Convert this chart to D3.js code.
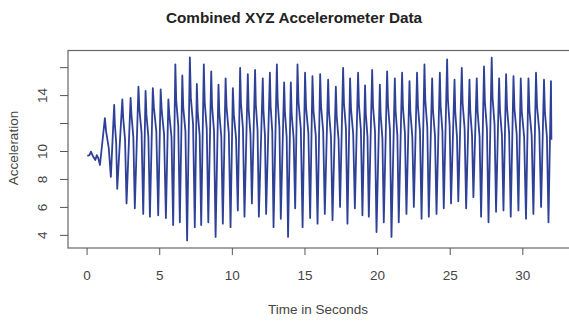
<!DOCTYPE html>
<meta charset="utf-8">
<style>
body { margin: 0; background: #fff; }
text { font-family: "Liberation Sans", Arial, sans-serif; }
.axis path { display: none; }
.axis line { stroke: #555; }
.axis text { fill: #444; font-size: 13.5px; }
</style>
<script src="https://d3js.org/d3.v7.min.js"></script>
<body>
<script>
// slow wobble before the shaking starts
const startTimes = [0.05, 0.2, 0.3, 0.45, 0.6, 0.7, 0.8];
const startVals  = [9.65, 9.7, 9.95, 9.6, 9.35, 9.7, 9.5];

// per stroke: trough, peak, shoulder just after the peak, plateau before the next trough
const troughTimes = [0.92, 1.67, 2.11, 2.75, 3.32, 3.90, 4.36, 4.93, 5.46, 5.96,
  6.42, 6.92, 7.45, 7.89, 8.38, 8.88, 9.38, 9.91, 10.41, 10.87,
  11.38, 11.86, 12.36, 12.87, 13.37, 13.87, 14.36, 14.87, 15.39, 15.90,
  16.40, 16.93, 17.45, 17.96, 18.47, 18.99, 19.43, 19.96, 20.46, 20.99,
  21.49, 22.02, 22.53, 23.06, 23.56, 24.09, 24.59, 25.09, 25.59, 26.13,
  26.63, 27.16, 27.67, 28.19, 28.70, 29.20, 29.73, 30.25, 30.76, 31.29,
  31.80];
const troughVals = [9.0, 8.15, 7.3, 6.25, 5.9, 5.5, 5.3, 5.4, 5.2, 4.7,
  4.9, 3.6, 4.55, 4.7, 4.9, 3.85, 4.8, 4.55, 5.75, 5.3,
  6.25, 5.3, 5.5, 4.55, 5.15, 3.85, 5.9, 4.55, 5.2, 4.8,
  5.5, 5.05, 6.0, 4.8, 5.9, 5.4, 5.3, 4.2, 4.9, 3.85,
  4.9, 5.5, 6.0, 5.15, 5.3, 5.5, 5.9, 6.25, 6.4, 5.9,
  6.7, 5.3, 4.9, 5.65, 5.75, 5.3, 5.75, 5.15, 5.5, 6.0,
  4.9];
const peakTimes = [1.26, 1.90, 2.46, 3.03, 3.57, 4.06, 4.56, 5.10, 5.63, 6.11,
  6.59, 7.11, 7.59, 8.07, 8.58, 9.08, 9.57, 10.07, 10.57, 11.10,
  11.60, 12.13, 12.62, 13.10, 13.60, 14.06, 14.52, 15.04, 15.55, 16.08,
  16.63, 17.16, 17.66, 18.14, 18.69, 19.17, 19.66, 20.19, 20.69, 21.22,
  21.72, 22.23, 22.75, 23.26, 23.79, 24.32, 24.82, 25.33, 25.83, 26.36,
  26.86, 27.36, 27.89, 28.40, 28.88, 29.39, 29.89, 30.42, 30.94, 31.49,
  31.97];
const peakVals = [12.35, 13.3, 13.7, 13.8, 14.6, 14.3, 14.5, 14.4, 13.7, 16.2,
  15.4, 16.7, 14.8, 16.2, 15.7, 14.75, 15.2, 14.5, 15.95, 15.5,
  15.8, 15.2, 15.6, 16.2, 14.9, 14.9, 16.2, 15.6, 15.35, 15.5,
  15.1, 14.6, 15.95, 15.2, 15.6, 14.7, 15.8, 14.75, 15.7, 15.2,
  15.6, 15.0, 15.6, 16.2, 15.2, 15.6, 16.55, 15.1, 15.95, 15.1,
  15.2, 16.05, 16.67, 15.2, 15.5, 15.35, 15.2, 15.2, 15.6, 15.1,
  15.0];
const shoulderVals = [11.4, 12.0, 12.4, 12.6, 13.0, 12.6, 13.1, 12.9, 12.6, 13.6,
  13.1, 13.8, 12.8, 13.5, 13.2, 12.7, 13.1, 12.6, 13.4, 13.0,
  13.3, 12.9, 13.2, 13.6, 12.8, 12.6, 13.5, 13.1, 12.9, 13.2,
  12.8, 12.5, 13.4, 13.0, 13.3, 12.7, 13.2, 12.6, 13.3, 12.9,
  13.1, 12.8, 13.2, 13.6, 12.9, 13.2, 13.7, 12.8, 13.4, 12.9,
  12.8, 13.5, 13.8, 12.9, 13.1, 13.0, 12.8, 12.9, 13.2, 12.8,
  11.8];
const plateauVals = [10.2, 10.6, 10.8, 11.0, 11.3, 11.0, 11.4, 11.2, 11.0, 11.8,
  11.4, 11.9, 11.1, 11.6, 11.4, 11.0, 11.3, 10.9, 11.6, 11.2,
  11.5, 11.1, 11.4, 11.7, 11.0, 10.9, 11.6, 11.3, 11.1, 11.4,
  11.0, 10.8, 11.6, 11.2, 11.5, 11.0, 11.4, 10.9, 11.5, 11.1,
  11.3, 11.0, 11.4, 11.7, 11.1, 11.4, 11.8, 11.0, 11.6, 11.1,
  11.0, 11.6, 11.9, 11.1, 11.3, 11.2, 11.0, 11.1, 11.4, 11.0,
  10.8];
const endTime = 32.0, endVal = 10.8;

const xTicks = [0, 5, 10, 15, 20, 25, 30];
const yTicks = [4, 6, 8, 10, 12, 14, 16];
const yLabels = [4, 6, 8, 10, 14];

const W = 569, H = 322;
const box = { left: 68, right: 570, top: 50.5, bottom: 248 };

// assemble the series
const series = [];
startTimes.forEach((t, i) => series.push([t, startVals[i]]));
peakTimes.forEach((t, i) => {
  series.push([troughTimes[i], troughVals[i]]);
  series.push([t, peakVals[i]]);
  if (i < peakTimes.length - 1) {
    const gap = troughTimes[i + 1] - t;
    series.push([t + gap * 0.2, shoulderVals[i]]);
    series.push([t + gap * 0.65, plateauVals[i]]);
  }
});
series.push([endTime, endVal]);

const svg = d3.select('body').append('svg')
  .attr('width', W).attr('height', H);

const x = d3.scaleLinear().domain([-1.28, 33.28]).range([box.left, box.right]);
const y = d3.scaleLinear().domain([3.06, 17.19]).range([box.bottom, box.top]);

svg.append('text')
  .attr('x', 294).attr('y', 22.5)
  .attr('text-anchor', 'middle')
  .style('font-weight', 'bold').style('font-size', '15.3px').style('fill', '#222')
  .text('Combined XYZ Accelerometer Data');

svg.append('path')
  .datum(series)
  .attr('fill', 'none')
  .attr('stroke', '#2f4196')
  .attr('stroke-width', 1.8)
  .attr('stroke-linejoin', 'round')
  .attr('d', d3.line().x(d => x(d[0])).y(d => y(d[1])));

svg.append('rect')
  .attr('x', box.left).attr('y', box.top)
  .attr('width', box.right - box.left).attr('height', box.bottom - box.top)
  .attr('fill', 'none').attr('stroke', '#666').attr('stroke-width', 1.2);

svg.append('g')
  .attr('class', 'axis')
  .attr('transform', `translate(0, ${box.bottom})`)
  .call(d3.axisBottom(x).tickValues(xTicks).tickSize(7).tickPadding(15));

const yAxis = svg.append('g')
  .attr('class', 'axis')
  .attr('transform', `translate(${box.left}, 0)`)
  .call(d3.axisLeft(y).tickValues(yTicks).tickSize(8)
    .tickFormat(d => yLabels.includes(d) ? d : ''));
yAxis.selectAll('text')
  .attr('x', null).attr('dy', null)
  .attr('text-anchor', 'middle')
  .attr('transform', 'translate(-21.5, 0) rotate(-90)');

svg.append('text')
  .attr('transform', 'translate(18, 148) rotate(-90)')
  .attr('text-anchor', 'middle')
  .style('font-size', '13.5px').style('fill', '#444')
  .text('Acceleration');

svg.append('text')
  .attr('x', 318).attr('y', 314)
  .attr('text-anchor', 'middle')
  .style('font-size', '13.5px').style('fill', '#444')
  .text('Time in Seconds');
</script>
</body>
</html>
